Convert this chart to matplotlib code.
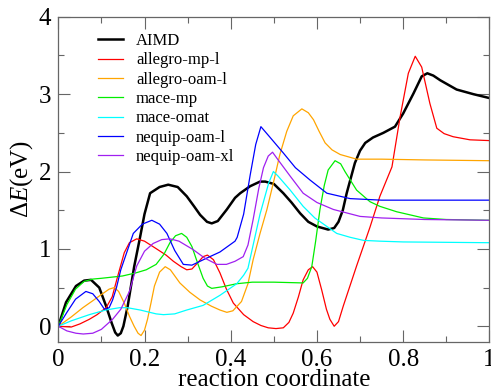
import matplotlib
matplotlib.use("Agg")
import matplotlib.pyplot as plt
from matplotlib.ticker import MultipleLocator, FuncFormatter

# values
aimd_x = [0, 0.018, 0.041, 0.06, 0.076, 0.095, 0.111, 0.124, 0.132, 0.138, 0.145, 0.151,
          0.161, 0.176, 0.19, 0.2, 0.213, 0.235, 0.255, 0.277, 0.298, 0.315, 0.329, 0.345,
          0.356, 0.37, 0.391, 0.41, 0.422, 0.445, 0.468, 0.48, 0.5, 0.522, 0.541, 0.561,
          0.58, 0.6, 0.626, 0.64, 0.65, 0.66, 0.669, 0.688, 0.7, 0.712, 0.73, 0.754, 0.781,
          0.8, 0.824, 0.843, 0.856, 0.87, 0.886, 0.905, 0.924, 0.963, 1.0]
aimd_y = [0, 0.31, 0.52, 0.59, 0.60, 0.50, 0.26, 0.04, -0.08, -0.12, -0.09, 0.0,
          0.26, 0.77, 1.16, 1.45, 1.72, 1.80, 1.83, 1.80, 1.68, 1.55, 1.44, 1.35,
          1.33, 1.36, 1.51, 1.66, 1.72, 1.81, 1.87, 1.87, 1.84, 1.72, 1.60, 1.46,
          1.35, 1.29, 1.25, 1.27, 1.35, 1.50, 1.72, 2.11, 2.27, 2.37, 2.44, 2.50, 2.58,
          2.75, 3.01, 3.23, 3.27, 3.24, 3.18, 3.12, 3.06, 3.0, 2.95]

amp_x = [0, 0.03, 0.05, 0.072, 0.09, 0.111, 0.125, 0.138, 0.153, 0.165, 0.182, 0.2,
         0.228, 0.25, 0.267, 0.285, 0.298, 0.31, 0.325, 0.336, 0.346, 0.36, 0.375, 0.39,
         0.406, 0.43, 0.452, 0.47, 0.487, 0.505, 0.522, 0.535, 0.545, 0.557, 0.568, 0.58,
         0.59, 0.6, 0.611, 0.622, 0.63, 0.64, 0.65, 0.661, 0.692, 0.723, 0.746, 0.774,
         0.793, 0.812, 0.828, 0.843, 0.862, 0.878, 0.895, 0.916, 0.955, 1.0]
amp_y = [0, -0.01, 0.03, 0.09, 0.15, 0.24, 0.38, 0.65, 0.95, 1.08, 1.13, 1.10,
         1.0, 0.92, 0.84, 0.77, 0.73, 0.74, 0.83, 0.90, 0.92, 0.86, 0.69, 0.48,
         0.30, 0.15, 0.06, 0.01, -0.02, -0.03, -0.02, 0.05, 0.17, 0.38, 0.60, 0.73,
         0.77, 0.70, 0.47, 0.22, 0.09, 0.0, 0.06, 0.26, 0.78, 1.28, 1.68, 2.06,
         2.71, 3.27, 3.49, 3.35, 2.88, 2.56, 2.49, 2.45, 2.41, 2.40]

aoam_x = [0, 0.03, 0.057, 0.08, 0.1, 0.118, 0.13, 0.14, 0.153, 0.165, 0.176, 0.185,
          0.192, 0.2, 0.207, 0.215, 0.223, 0.235, 0.248, 0.26, 0.282, 0.305, 0.329, 0.355,
          0.375, 0.391, 0.405, 0.425, 0.44, 0.452, 0.468, 0.484, 0.5, 0.514, 0.53, 0.545,
          0.565, 0.58, 0.592, 0.605, 0.619, 0.635, 0.654, 0.692, 0.75, 0.85, 1.0]
aoam_y = [0, 0.12, 0.24, 0.33, 0.41, 0.48, 0.50, 0.45, 0.30, 0.13, 0.0, -0.09,
          -0.12, -0.05, 0.09, 0.30, 0.52, 0.70, 0.77, 0.73, 0.56, 0.44, 0.34, 0.26,
          0.21, 0.18, 0.20, 0.32, 0.55, 0.86, 1.20, 1.51, 1.88, 2.22, 2.52, 2.72,
          2.81, 2.76, 2.67, 2.52, 2.37, 2.28, 2.22, 2.16, 2.16, 2.15, 2.14]

mmp_x = [0, 0.02, 0.04, 0.06, 0.08, 0.1, 0.149, 0.18, 0.204, 0.227, 0.245, 0.259,
         0.272, 0.286, 0.298, 0.31, 0.323, 0.336, 0.346, 0.356, 0.38, 0.414, 0.45, 0.5,
         0.568, 0.578, 0.588, 0.597, 0.607, 0.617, 0.626, 0.642, 0.655, 0.665, 0.692,
         0.723, 0.746, 0.785, 0.847, 0.9, 1.0]
mmp_y = [0, 0.28, 0.48, 0.58, 0.61, 0.62, 0.65, 0.69, 0.73, 0.80, 0.93, 1.08,
         1.17, 1.20, 1.15, 1.03, 0.82, 0.62, 0.52, 0.49, 0.51, 0.55, 0.57, 0.57,
         0.56, 0.62, 0.77, 1.10, 1.51, 1.82, 2.02, 2.14, 2.10, 2.0, 1.76,
         1.61, 1.55, 1.48, 1.40, 1.38, 1.37]

momat_x = [0, 0.03, 0.072, 0.11, 0.142, 0.16, 0.19, 0.227, 0.244, 0.27, 0.298, 0.336,
           0.375, 0.414, 0.43, 0.44, 0.452, 0.468, 0.488, 0.499, 0.51, 0.538, 0.568,
           0.595, 0.623, 0.646, 0.677, 0.708, 0.746, 0.8, 1.0]
momat_y = [0, 0.07, 0.15, 0.21, 0.24, 0.24, 0.21, 0.16, 0.15, 0.16, 0.21, 0.27,
           0.40, 0.55, 0.66, 0.75, 1.05, 1.45, 1.85, 2.00, 1.94, 1.76, 1.55,
           1.40, 1.29, 1.20, 1.15, 1.11, 1.10, 1.09, 1.08]

nl_x = [0, 0.02, 0.04, 0.064, 0.08, 0.095, 0.107, 0.118, 0.126, 0.135, 0.145, 0.161,
        0.174, 0.195, 0.217, 0.235, 0.252, 0.27, 0.29, 0.31, 0.344, 0.375, 0.41, 0.415,
        0.43, 0.445, 0.458, 0.47, 0.49, 0.522, 0.55, 0.584, 0.623, 0.677, 0.75, 1.0]
nl_y = [0, 0.18, 0.35, 0.45, 0.42, 0.32, 0.22, 0.24, 0.34, 0.50, 0.73, 0.99,
        1.2, 1.32, 1.37, 1.32, 1.2, 0.98, 0.80, 0.79, 0.88, 0.96, 1.10, 1.15,
        1.45, 1.95, 2.35, 2.58, 2.45, 2.24, 2.05, 1.89, 1.72, 1.65, 1.63, 1.63]

nxl_x = [0, 0.02, 0.041, 0.058, 0.08, 0.1, 0.126, 0.145, 0.165, 0.182, 0.2, 0.22,
         0.24, 0.259, 0.28, 0.313, 0.34, 0.368, 0.39, 0.41, 0.429, 0.44, 0.452, 0.465,
         0.476, 0.487, 0.497, 0.51, 0.538, 0.568, 0.6, 0.638, 0.7, 0.75, 0.85, 1.0]
nxl_y = [0, -0.06, -0.09, -0.10, -0.09, -0.04, 0.09, 0.22, 0.45, 0.78, 0.97, 1.07,
         1.12, 1.13, 1.10, 0.99, 0.88, 0.80, 0.80, 0.84, 0.90, 1.05, 1.38, 1.78,
         2.05, 2.20, 2.25, 2.15, 1.94, 1.72, 1.60, 1.51, 1.42, 1.40, 1.38, 1.37]

plt.rcParams["font.family"] = "Liberation Serif"
plt.rcParams["mathtext.fontset"] = "custom"
plt.rcParams["mathtext.rm"] = "Liberation Serif"
plt.rcParams["mathtext.it"] = "Liberation Serif:italic"

fig = plt.figure(figsize=(4.91, 3.91), dpi=100)
ax = fig.add_axes([0.1187, 0.126, 0.878, 0.831])

ax.plot(aimd_x, aimd_y, color="black", lw=1.8, label="AIMD")
ax.plot(amp_x, amp_y, color="#ff0000", lw=0.9, label="allegro-mp-l")
ax.plot(aoam_x, aoam_y, color="#ffa500", lw=0.9, label="allegro-oam-l")
ax.plot(mmp_x, mmp_y, color="#00ee00", lw=0.9, label="mace-mp")
ax.plot(momat_x, momat_y, color="#00ffff", lw=0.9, label="mace-omat")
ax.plot(nl_x, nl_y, color="#0000ff", lw=0.9, label="nequip-oam-l")
ax.plot(nxl_x, nxl_y, color="#a020f0", lw=0.9, label="nequip-oam-xl")

ax.set_xlim(0, 1)
ax.set_ylim(-0.2, 4)
ax.xaxis.set_major_locator(MultipleLocator(0.2))
ax.xaxis.set_minor_locator(MultipleLocator(0.1))
ax.yaxis.set_major_locator(MultipleLocator(1))
ax.yaxis.set_minor_locator(MultipleLocator(0.5))
ax.xaxis.set_major_formatter(FuncFormatter(lambda v, p: f"{v:g}"))

ax.tick_params(which="both", direction="in", top=True, right=True, color="#666666",
               labelsize=18, width=0.8)
ax.tick_params(which="major", length=8.5, pad=5)
ax.tick_params(which="minor", length=4.5)
for s in ax.spines.values():
    s.set_color("#666666")
    s.set_linewidth(0.9)

ax.set_xlabel("reaction coordinate", fontsize=18, labelpad=-1)
ax.set_ylabel(r"$\Delta E$(eV)", fontsize=18, labelpad=3)

ax.legend(loc="upper left", bbox_to_anchor=(0.092, 0.95), frameon=False, fontsize=12,
          handlelength=1.5, handletextpad=0.78, labelspacing=0.2, borderpad=0,
          borderaxespad=0)

plt.savefig("out.png", dpi=100)
